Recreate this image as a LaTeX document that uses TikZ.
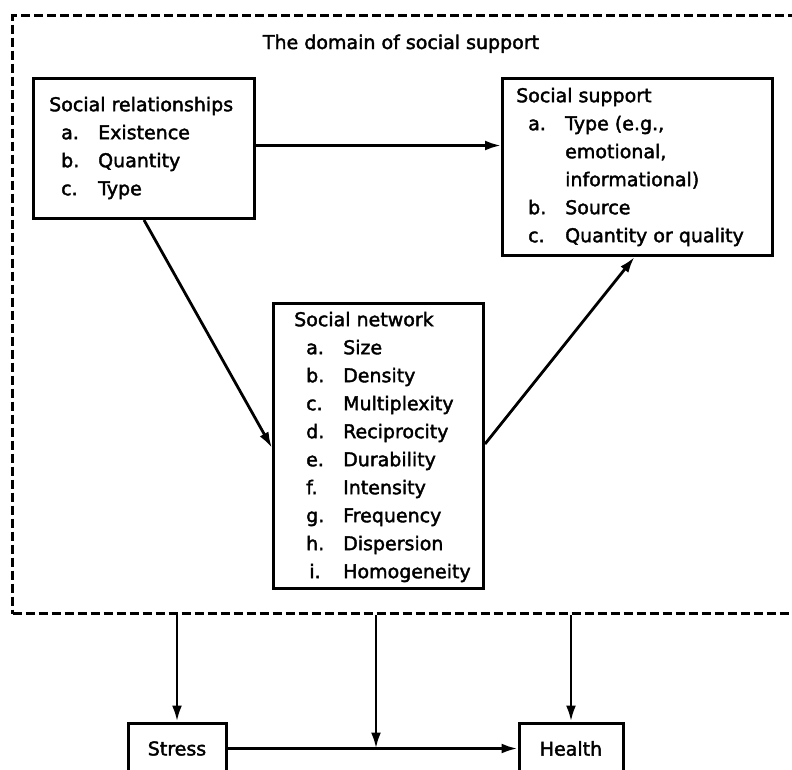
\documentclass[tikz,border=0pt]{standalone}
\usepackage{fontspec}
\newfontfamily\hv{DejaVu Sans}[FakeBold=2]
\usetikzlibrary{arrows.meta,calc}
\newcommand\itm[2]{\hspace*{12pt}\makebox[37pt][l]{#1}#2}
\tikzset{
  box/.style={draw, line width=3pt, rectangle, inner sep=0pt},
  dashbox/.style={draw, line width=3.4pt, dash pattern=on 9pt off 4pt, rectangle, inner sep=0pt},
  txt/.style={inner sep=0pt, anchor=north west, font=\hv\fontsize{19}{28}\selectfont},
  arr/.style={line width=2.8pt, -{Latex[length=16pt,width=10pt]}},
}
\begin{document}
\begin{tikzpicture}[x=1pt,y=-1pt]
\useasboundingbox (0,0) rectangle (792,769);
\clip (0,0) rectangle (792,769);
% domain
\node[dashbox, minimum width=795pt, minimum height=598pt, anchor=north west] (dom) at (11,14) {};
\node[inner sep=0pt, anchor=base, font=\hv\fontsize{19}{28}\selectfont] (title) at (401,49) {The domain of social support};
% boxes
\node[box, minimum width=221pt, minimum height=140pt, anchor=north west] (sr) at (32,77) {};
\node[txt] (srt) at (49,91.4) {\begin{tabular}{@{}l@{}}Social relationships\\ \itm{a.}{Existence}\\ \itm{b.}{Quantity}\\ \itm{c.}{Type}\end{tabular}};
\node[box, minimum width=270pt, minimum height=177pt, anchor=north west] (ss) at (501,77) {};
\node[txt] (sst) at (516,82.4) {\begin{tabular}{@{}l@{}}Social support\\ \itm{a.}{Type (e.g.,}\\ \itm{}{emotional,}\\ \itm{}{informational)}\\ \itm{b.}{Source}\\ \itm{c.}{Quantity or quality}\end{tabular}};
\node[box, minimum width=210pt, minimum height=285pt, anchor=north west] (sn) at (272,302) {};
\node[txt] (snt) at (294,306.4) {\begin{tabular}{@{}l@{}}Social network\\ \itm{a.}{Size}\\ \itm{b.}{Density}\\ \itm{c.}{Multiplexity}\\ \itm{d.}{Reciprocity}\\ \itm{e.}{Durability}\\ \itm{f.}{Intensity}\\ \itm{g.}{Frequency}\\ \itm{h.}{Dispersion}\\ \itm{\,i.}{Homogeneity}\end{tabular}};
\node[box, minimum width=98pt, minimum height=51pt, font=\hv\fontsize{19}{28}\selectfont] (stress) at (177,748.5) {Stress};
\node[box, minimum width=104pt, minimum height=51pt, font=\hv\fontsize{19}{28}\selectfont] (health) at (571,748.5) {Health};
\coordinate (mid) at (376,748.5);
% connectors
\draw[arr] ([yshift=3pt]sr.east) -- ([yshift=3pt]sr.east -| ss.west);
\draw[arr] (sr.south) -- ([yshift=-2pt]sn.west);
\draw[arr] ([yshift=2pt]sn.east) -- ([xshift=-3pt]ss.south);
\draw[arr] (dom.south -| stress.north) -- (stress.north);
\draw[arr] (dom.south -| health.north) -- (health.north);
\draw[arr] (dom.south -| mid) -- (mid);
\draw[arr] (stress.east) -- (health.west);
\end{tikzpicture}
\end{document}
